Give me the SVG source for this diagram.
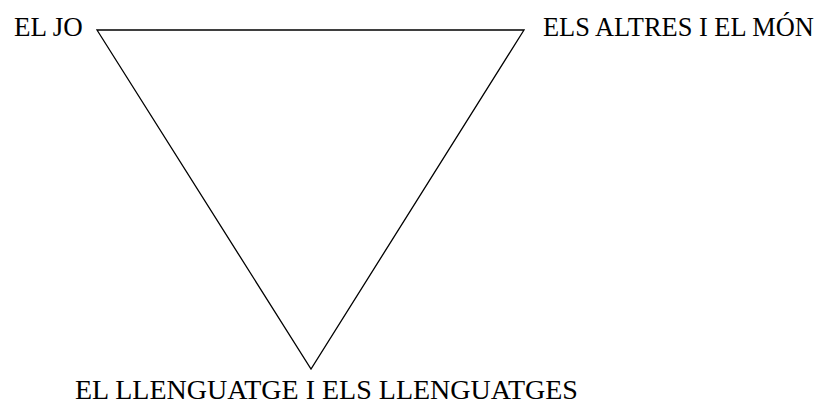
<svg xmlns="http://www.w3.org/2000/svg" width="824" height="405" viewBox="0 0 824 405">
<style>
text{font-family:"Liberation Serif","Times New Roman",serif;font-size:27px;fill:#000}
.edge{fill:none;stroke:#000;stroke-width:1.3}
</style>
<rect width="824" height="405" fill="#fff"/>
<g id="connectors">
<polygon class="edge" points="97,30 524,30 311,369"/>
</g>
<g id="node-jo"><text x="14" y="36">EL JO</text></g>
<g id="node-altres"><text x="543" y="36" style="font-size:26.4px">ELS ALTRES I EL MÓN</text></g>
<g id="node-llenguatge"><text x="75" y="399" style="font-size:28px">EL LLENGUATGE I ELS LLENGUATGES</text></g>
</svg>
